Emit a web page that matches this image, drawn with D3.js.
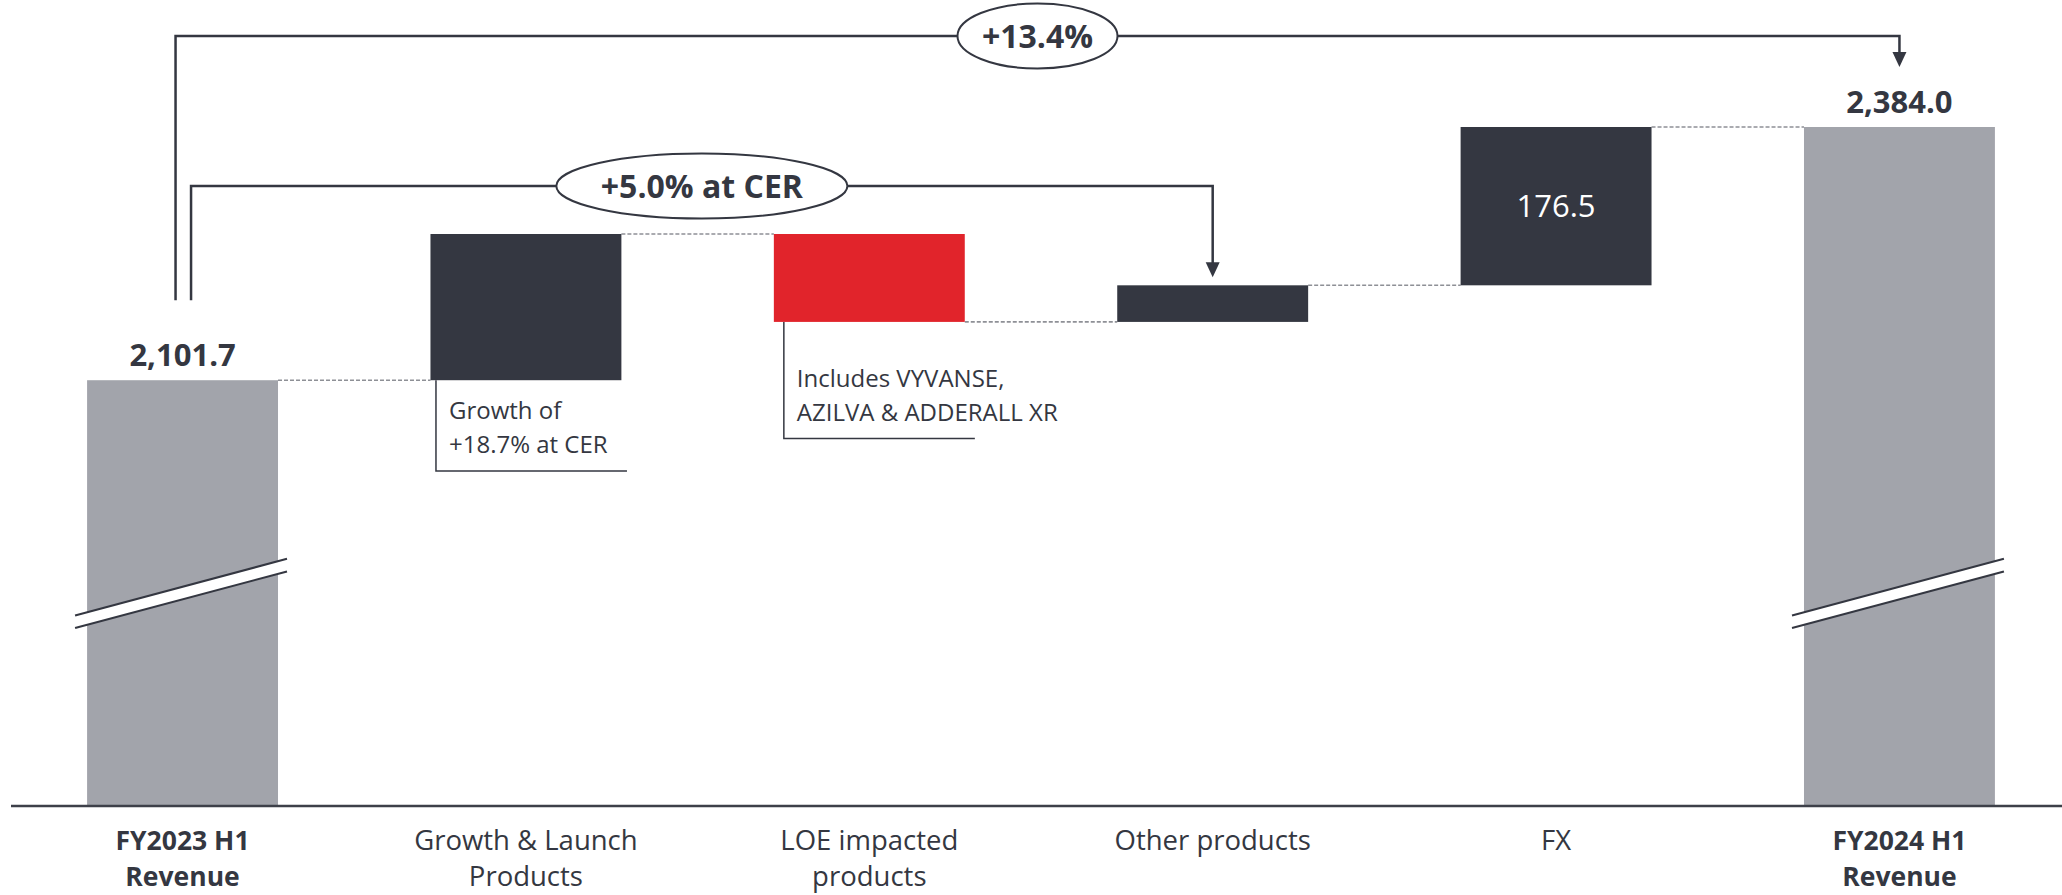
<!DOCTYPE html>
<html>
<head>
<meta charset="utf-8">
<script src="https://cdn.jsdelivr.net/npm/d3@7"></script>
<style>
  html, body { margin: 0; padding: 0; background: #fff; }
  svg { display: block; font-family: "Open Sans", "Noto Sans", sans-serif; }
</style>
</head>
<body>
<div id="chart"></div>
<script>
// revenue bridge, JPY bn
const categories = ['FY2023 H1 Revenue', 'Growth & Launch Products', 'LOE impacted products', 'Other products', 'FX', 'FY2024 H1 Revenue'];
const categoryLines = [['FY2023 H1', 'Revenue'], ['Growth & Launch', 'Products'], ['LOE impacted', 'products'], ['Other products'], ['FX'], ['FY2024 H1', 'Revenue']];
const barKinds = ['total', 'up', 'down', 'up', 'up', 'total'];
const values = [2101.7, 163.0, -98.0, 40.8, 176.5, 2384.0];
const valueLabels = ['2,101.7', null, null, null, '176.5', '2,384.0'];
const noteLines = [null, ['Growth of', '+18.7% at CER'], ['Includes VYVANSE,', 'AZILVA & ADDERALL XR'], null, null, null];
const bracketLabels = ['+5.0% at CER', '+13.4%'];

const W = 2062, H = 895;
const colors = { total: '#a2a4ab', up: '#343741', down: '#e1242b' };
const ink = '#343741';

// running totals -> bar extents
let run = 0;
const bars = categories.map((c, i) => {
    let lo, hi;
    if (barKinds[i] === 'total') {
        lo = null; hi = values[i]; run = values[i];
    } else {
        const start = run;
        run += values[i];
        lo = Math.min(start, run); hi = Math.max(start, run);
    }
    return { cat: c, kind: barKinds[i], lo, hi, end: run, i };
});

const x = d3.scaleBand()
    .domain(categories)
    .range([10, W + 10])
    .paddingInner(0.444)
    .paddingOuter(0.2245);

// axis is broken: the floor sits well above zero
const axisFloor = 1627;
const y = d3.scaleLinear()
    .domain([axisFloor, 2384.0])
    .range([806, 127]);

const svg = d3.select('#chart')
    .append('svg')
    .attr('width', W)
    .attr('height', H);

svg.append('rect').attr('width', W).attr('height', H).attr('fill', '#fff');

const bw = x.bandwidth();

// connectors between consecutive bars
svg.append('g')
    .selectAll('line')
    .data(bars.slice(0, -1))
    .enter()
    .append('line')
    .attr('x1', d => x(d.cat) + bw)
    .attr('x2', d => x(categories[d.i + 1]))
    .attr('y1', d => y(d.end))
    .attr('y2', d => y(d.end))
    .attr('stroke', '#8e9096')
    .attr('stroke-width', 1.6)
    .attr('stroke-dasharray', '4,2');

// bars
svg.append('g')
    .selectAll('rect')
    .data(bars)
    .enter()
    .append('rect')
    .attr('x', d => x(d.cat))
    .attr('width', bw)
    .attr('y', d => y(d.hi))
    .attr('height', d => (d.lo === null ? y(axisFloor) : y(d.lo)) - y(d.hi))
    .attr('fill', d => colors[d.kind]);

// scale-break marks on the total bars
const breakValue = 1864;
bars.filter(d => d.kind === 'total').forEach(d => {
    const x0 = x(d.cat) - 12, x1 = x(d.cat) + bw + 9;
    const xc = (x0 + x1) / 2, yc = y(breakValue);
    const slope = -0.267, gap = 12.6;
    const yAt = (xx, off) => yc + off + slope * (xx - xc);
    const g = svg.append('g');
    g.append('polygon')
        .attr('points', [[x0, yAt(x0, -gap / 2)], [x1, yAt(x1, -gap / 2)], [x1, yAt(x1, gap / 2)], [x0, yAt(x0, gap / 2)]].join(' '))
        .attr('fill', '#fff');
    [-gap / 2, gap / 2].forEach(off => {
        g.append('line')
            .attr('x1', x0).attr('y1', yAt(x0, off))
            .attr('x2', x1).attr('y2', yAt(x1, off))
            .attr('stroke', ink)
            .attr('stroke-width', 2);
    });
});

// axis line
svg.append('line')
    .attr('x1', 11).attr('x2', W)
    .attr('y1', y(axisFloor)).attr('y2', y(axisFloor))
    .attr('stroke', '#3d4049')
    .attr('stroke-width', 2.5);

// category labels
const catLabels = svg.append('g')
    .selectAll('text')
    .data(bars)
    .enter()
    .append('text')
    .attr('x', d => x(d.cat) + bw / 2)
    .attr('y', 850)
    .attr('text-anchor', 'middle')
    .attr('fill', ink)
    .attr('font-size', d => d.kind === 'total' ? '26.5px' : '27.5px')
    .attr('font-weight', d => d.kind === 'total' ? 700 : 400);

catLabels.selectAll('tspan')
    .data(d => categoryLines[d.i])
    .enter()
    .append('tspan')
    .attr('x', function () { return d3.select(this.parentNode).attr('x'); })
    .attr('dy', (d, i) => i === 0 ? 0 : 36)
    .text(d => d);

// value labels
bars.forEach(d => {
    const label = valueLabels[d.i];
    if (!label) return;
    const t = svg.append('text')
        .attr('x', x(d.cat) + bw / 2)
        .attr('text-anchor', 'middle')
        .text(label);
    if (d.kind === 'total') {
        t.attr('y', y(d.hi) - 14)
            .attr('font-size', '31px')
            .attr('font-weight', 700)
            .attr('fill', ink);
    } else {
        t.attr('y', (y(d.hi) + y(d.lo)) / 2 + 11)
            .attr('font-size', '31px')
            .attr('fill', '#fff');
    }
});

// side notes hanging under the change bars: indent, first baseline drop
const noteStyle = { 1: { indent: 5.5, drop: 39 }, 2: { indent: 10, drop: 65 } };
bars.forEach(d => {
    const lines = noteLines[d.i];
    if (!lines) return;
    const st = noteStyle[d.i];
    const lx = x(d.cat) + st.indent;
    const top = y(d.lo);
    const lastBase = top + st.drop + (lines.length - 1) * 33.7;
    svg.append('path')
        .attr('d', `M${lx},${top}V${lastBase + 18}H${lx + 191}`)
        .attr('fill', 'none')
        .attr('stroke', ink)
        .attr('stroke-width', 1.5);
    svg.append('text')
        .attr('font-size', '24px')
        .attr('fill', ink)
        .selectAll('tspan')
        .data(lines)
        .enter()
        .append('tspan')
        .attr('x', lx + 13)
        .attr('y', (t, i) => top + st.drop + i * 33.7)
        .text(t => t);
});

// growth brackets with oval labels
const startCenter = x(categories[0]) + bw / 2;
const brackets = [
    { label: bracketLabels[0], x0: startCenter + 8.5, yTop: 186, target: bars[3], tip: y(bars[3].hi) - 8 },
    { label: bracketLabels[1], x0: startCenter - 7, yTop: 36, target: bars[5], tip: y(bars[5].hi) - 60 }
];

brackets.forEach(b => {
    const x1 = x(b.target.cat) + bw / 2;
    const yStart = y(values[0]) - 80;
    const head = 15;
    svg.append('path')
        .attr('d', `M${b.x0},${yStart}V${b.yTop}H${x1}V${b.tip - head + 1}`)
        .attr('fill', 'none')
        .attr('stroke', ink)
        .attr('stroke-width', 2.5);
    svg.append('path')
        .attr('d', `M${x1 - 7},${b.tip - head}L${x1 + 7},${b.tip - head}L${x1},${b.tip}Z`)
        .attr('fill', ink);

    const cx = (b.x0 + x1) / 2;
    const ell = svg.append('ellipse')
        .attr('cx', cx)
        .attr('cy', b.yTop)
        .attr('ry', 32.5)
        .attr('fill', '#fff')
        .attr('stroke', ink)
        .attr('stroke-width', 2);
    const txt = svg.append('text')
        .attr('x', cx)
        .attr('y', b.yTop + 12)
        .attr('text-anchor', 'middle')
        .attr('font-size', '32px')
        .attr('font-weight', 700)
        .attr('fill', ink)
        .text(b.label);
    ell.attr('rx', txt.node().getComputedTextLength() * 0.72);
});
</script>
</body>
</html>
